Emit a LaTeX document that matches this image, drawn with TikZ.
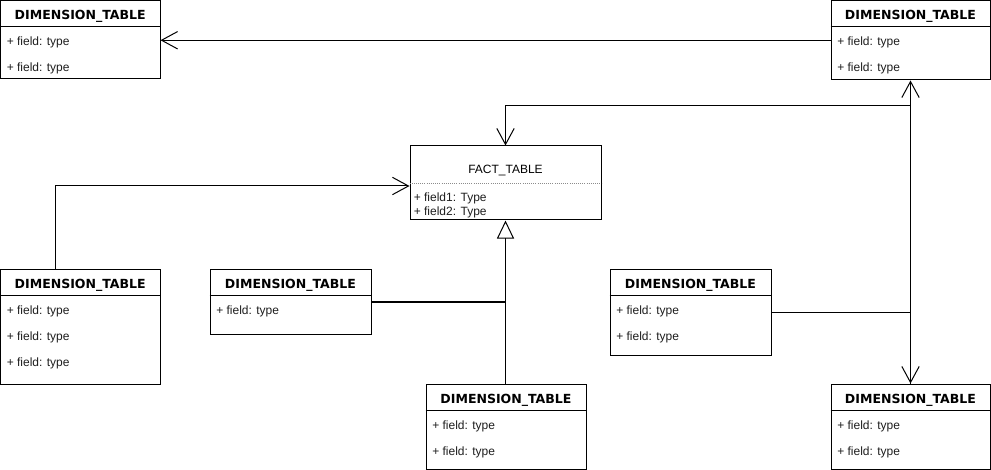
\documentclass[tikz,border=0pt]{standalone}
\usepackage{fontspec}
\setmainfont{Liberation Sans}
\newfontfamily\headfont{DejaVu Sans}
\usepackage{tikz}
\usetikzlibrary{
  arrows.meta,
  positioning,
  fit,
  calc
}
\definecolor{boxline}{HTML}{000000}
\definecolor{sepgrey}{HTML}{8C8C8C}
\definecolor{fieldgrey}{HTML}{1E1E1E}
\tikzset{
  tablebox/.style={
    rectangle, draw=boxline, line width=0.75pt, fill=white, inner sep=0pt
  },
  headlabel/.style={
    font=\headfont\bfseries\fontsize{9.4}{11}\selectfont,
    inner sep=0pt, anchor=base
  },
  factlabel/.style={
    font=\fontsize{9}{11}\selectfont, inner sep=0pt, anchor=base
  },
  fieldlabel/.style={
    font=\fontsize{9}{11}\selectfont, text=fieldgrey, inner sep=0pt,
    anchor=base west
  },
  sepline/.style={
    line width=0.75pt, color=boxline
  },
  dotsep/.style={
    line width=0.6pt, color=sepgrey, densely dotted
  },
  openarrow/.style={
    -{Straight Barb[length=12pt,width=13pt]}, line width=0.75pt
  },
  inheritarrow/.style={
    -{Triangle[open,length=13.5pt,width=12.75pt]}, line width=0.75pt
  },
  joinline/.style={
    line width=1.5pt
  },
}
% table with a bold title and n rows of fields
% #1 name, #2 left, #3 top, #4 right, #5 bottom, #6 rows
\newcommand{\dimtable}[6]{%
  \node[tablebox, fit={(#2,#3) (#4,#5)}] (#1) {};
  \node[headlabel] (#1-title) at ($(#1.north)+(0,19.5)$) {DIMENSION\_TABLE};
  \draw[sepline] ($(#1.north west)+(0,27)$) -- ($(#1.north east)+(0,27)$);
  \foreach \rowno in {1,...,#6} {
    \node[fieldlabel] (#1-f\rowno) at (#2+6,#3+45+26*\rowno-26) {+ field: type};
  }
}

\begin{document}
\begin{tikzpicture}[x=0.75pt, y=-0.75pt]
  \useasboundingbox (0,0) rectangle (991,470);

  % dimension tables
  \dimtable{dimTL}{0.5}{0.5}{160}{79}{2}
  \dimtable{dimTR}{831}{0.5}{990}{80}{2}
  \dimtable{dimBL}{0.5}{269}{160}{384}{3}
  \dimtable{dimML}{210}{269}{371}{334}{1}
  \dimtable{dimMR}{610}{269}{771}{355}{2}
  \dimtable{dimBM}{426}{384}{586}{469}{2}
  \dimtable{dimBR}{831}{384}{990}{469}{2}

  % fact table
  \node[tablebox, fit={(410,146) (601,220)}] (fact) {};
  \node[factlabel] (fact-title) at ($(fact.north)+(0,28)$) {FACT\_TABLE};
  \draw[dotsep] ($(fact.north west)+(0,38)$) -- ($(fact.north east)+(0,38)$);
  \node[fieldlabel] (fact-f1) at ($(fact.north west)+(4,56)$) {+ field1: Type};
  \node[fieldlabel] (fact-f2) at ($(fact.north west)+(4,70)$) {+ field2: Type};

  % connectors
  \draw[openarrow] (dimTR.west) -- (dimTR.west -| dimTL.east);
  \draw[openarrow] (dimBR.north) -- ++(0,-278) -| (fact.north);
  \draw[openarrow] (dimMR.east) -| (dimTR.south);
  \draw[openarrow] (dimMR.east) -| (dimBR.north);
  \draw[openarrow] ($(dimBL.north west)+(55,0)$) |- ($(fact.west)+(0,3)$);
  \draw[inheritarrow] (fact.south |- dimBM.north) -- (fact.south);
  \draw[joinline] (dimML.east) -- (dimML.east -| fact.south);
\end{tikzpicture}
\end{document}
